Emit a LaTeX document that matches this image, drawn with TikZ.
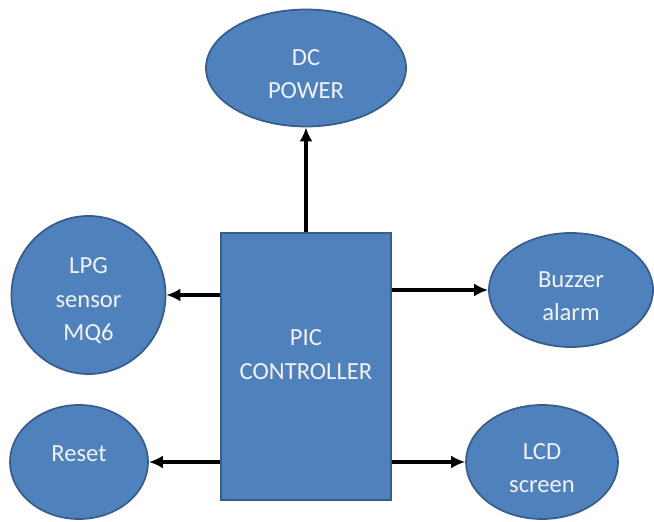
\documentclass[tikz,border=0pt]{standalone}
\usepackage{fontspec}
\setmainfont{Carlito}
\usetikzlibrary{shapes.geometric,arrows.meta}
\definecolor{blockfill}{HTML}{4F81BD}
\definecolor{blockline}{HTML}{385D8A}
\newcommand{\padtop}{\mbox{}\\[-3.2pt]}
\tikzset{
  block/.style={fill=blockfill, draw=blockline, line width=1pt, text=white!95!black,
    align=center, font=\fontsize{14}{19}\selectfont, inner sep=0pt},
  unit/.style={block, ellipse},
  link/.style={-{Latex[length=2.8mm,width=2.6mm]}, line width=2pt}
}
\begin{document}
\begin{tikzpicture}
            \useasboundingbox (0,0) rectangle (13.08,10.42);
            \node[block, minimum width=3.4cm, minimum height=5.34cm] (pic) at (6.12,3.09) {\padtop PIC\\CONTROLLER\\[0.1em]};
            \node[unit, minimum width=4.0cm, minimum height=2.34cm] (power) at (6.12,9.06) {\padtop DC\\POWER};
            \node[unit, minimum width=3.08cm, minimum height=3.16cm] (lpg) at (1.77,4.52) {\padtop LPG\\sensor\\MQ6};
            \node[unit, minimum width=3.28cm, minimum height=2.28cm] (buzzer) at (11.42,4.62) {\padtop Buzzer\\alarm};
            \node[unit, minimum width=2.76cm, minimum height=2.28cm] (reset) at (1.58,1.18) {\padtop Reset\\[-0.15em]};
            \node[unit, minimum width=3.04cm, minimum height=2.28cm] (lcd) at (10.84,1.18) {\padtop LCD\\screen};
            \draw[link] (pic.north) -- (power.south);
            \draw[link] (pic.west |- lpg.east) -- (lpg.east);
            \draw[link] (pic.east |- buzzer.west) -- (buzzer.west);
            \draw[link] (pic.west |- reset.east) -- (reset.east);
            \draw[link] (pic.east |- lcd.west) -- (lcd.west);
        \end{tikzpicture}
\end{document}
